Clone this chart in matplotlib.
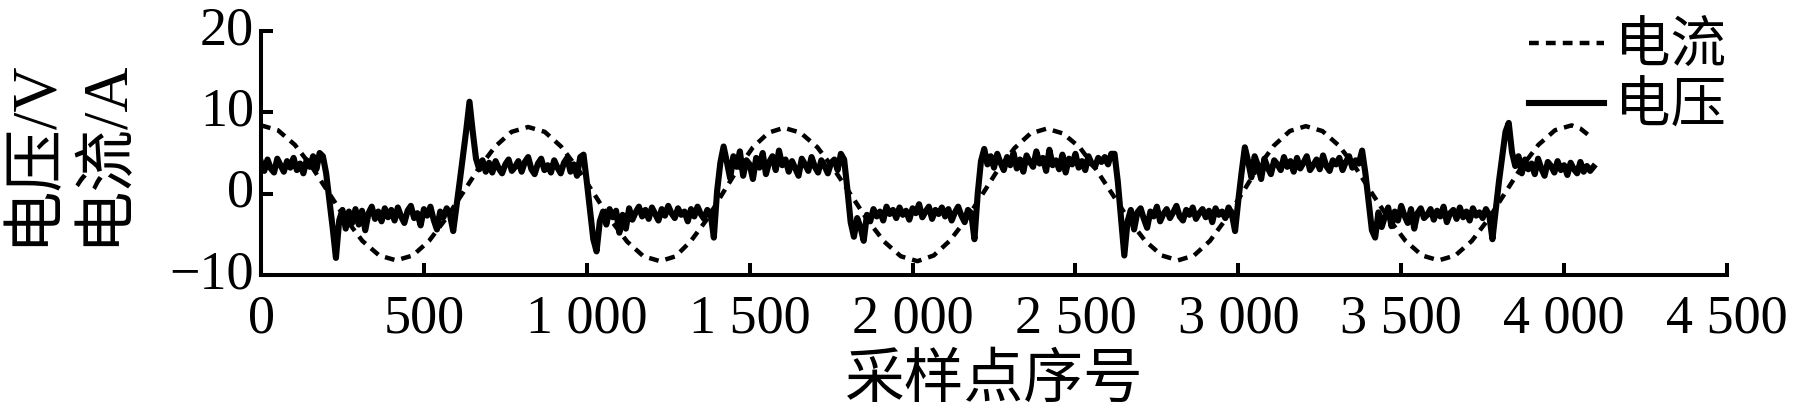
import matplotlib
matplotlib.use('Agg')
import matplotlib.pyplot as plt
import matplotlib.transforms as mtransforms
import numpy as np

plt.rcParams['font.family'] = ['Liberation Serif', 'Noto Sans CJK SC']

# ------------------------------------------------------------
# Data (sample index vs. value)
# ------------------------------------------------------------

# current (dashed), points along the curve
current_x = [0, 52, 104, 156, 208, 260, 311, 363, 415,
             466, 516, 567, 618, 668, 719, 769, 820,
             871, 921, 972, 1022, 1073, 1124, 1174, 1225,
             1273, 1320, 1368, 1415, 1463, 1510, 1558, 1605,
             1656, 1708, 1759, 1810, 1861, 1913, 1964, 2015,
             2065, 2114, 2164, 2214, 2263, 2313, 2362, 2412,
             2462, 2513, 2563, 2614, 2664, 2714, 2765, 2815,
             2864, 2913, 2962, 3011, 3060, 3109, 3158, 3207,
             3258, 3309, 3360, 3411, 3462, 3513, 3564, 3615,
             3666, 3717, 3768, 3819, 3870, 3921, 3972, 4023,
             4050, 4075]
current_y = [8.4, 7.8, 6.0, 3.3, 0.1, -3.1, -5.8, -7.6, -8.2,
             -7.6, -5.8, -3.1, 0.0, 3.1, 5.8, 7.6, 8.2,
             7.6, 5.8, 3.1, 0.0, -3.2, -5.9, -7.7, -8.3,
             -7.7, -5.8, -3.2, -0.1, 3.0, 5.7, 7.5, 8.1,
             7.5, 5.7, 3.0, -0.1, -3.2, -5.9, -7.7, -8.3,
             -7.6, -5.8, -3.2, -0.1, 3.0, 5.6, 7.4, 8.0,
             7.4, 5.7, 3.0, -0.1, -3.2, -5.8, -7.6, -8.2,
             -7.6, -5.8, -3.1, 0.0, 3.2, 5.9, 7.7, 8.3,
             7.7, 5.9, 3.2, 0.0, -3.1, -5.8, -7.6, -8.2,
             -7.6, -5.8, -3.1, 0.1, 3.3, 6.0, 7.8, 8.4,
             8.0, 7.2]

# voltage (solid), one value every 10 samples
voltage_step = 10
voltage = [
    3.9, 2.8, 4.2, 3.1, 2.6, 4.3, 3.5, 2.7, 4.0, 3.2,          # 0
    4.4, 2.9, 3.7, 2.5, 4.1, 3.3, 4.6, 3.0, 5.0, 4.6,          # 100
    2.5, -0.8, -4.2, -7.9, -3.3, -2.0, -4.3, -2.2, -3.6, -1.9,  # 200
    -3.8, -2.1, -4.5, -2.4, -1.6, -3.1, -2.2, -3.4, -1.8, -2.9,  # 300
    -2.0, -3.3, -1.7, -2.8, -3.6, -2.1, -1.5, -3.0, -2.4, -3.9,  # 400
    -1.9, -2.7, -1.6, -3.2, -4.4, -2.2, -2.9, -1.8, -2.6, -4.6,  # 500
    -1.6, 1.5, 4.6, 7.8, 11.3, 7.6, 4.3, 3.0, 4.1, 2.7,        # 600
    3.8, 2.6, 4.0, 3.1, 2.5, 3.6, 4.2, 2.8, 3.3, 4.0,          # 700
    2.7, 3.9, 4.5, 3.0, 2.4, 3.7, 4.3, 2.9, 3.5, 2.6,          # 800
    4.1, 3.2, 2.5, 3.8, 4.4, 2.7, 3.6, 2.2, 4.5, 4.8,          # 900
    1.5, -2.0, -5.6, -7.1, -3.4, -2.2, -3.8, -1.9, -2.9, -2.1,  # 1000
    -4.8, -2.6, -4.3, -1.8, -3.2, -2.3, -1.6, -2.8, -2.0, -3.1,  # 1100
    -1.7, -2.5, -3.3, -1.9, -2.7, -1.5, -2.4, -3.0, -1.8, -2.6,  # 1200
    -2.2, -3.4, -1.9, -2.8, -1.6, -2.5, -3.1, -2.0, -2.4, -5.4,  # 1300
    0.3, 3.8, 5.8, 3.9, 1.9, 4.6, 3.3, 5.2, 2.2, 4.1,          # 1400
    3.6, 1.8, 4.4, 3.2, 5.0, 2.4, 3.9, 4.6, 2.9, 5.3,          # 1500
    3.5, 4.2, 2.7, 4.0, 3.1, 2.2, 4.3, 3.6, 2.8, 4.5,          # 1600
    3.3, 2.6, 4.1, 3.4, 2.5, 3.8, 4.2, 2.9, 4.9, 4.2,          # 1700
    0.5, -3.5, -5.3, -3.0, -4.1, -5.8, -2.6, -3.4, -1.9, -2.8,  # 1800
    -2.2, -3.3, -1.6, -2.5, -2.0, -3.0, -1.7, -2.6, -2.1, -3.2,  # 1900
    -1.8, -2.4, -1.3, -2.9, -2.2, -1.6, -3.1, -2.0, -2.5, -1.7,  # 2000
    -2.8, -1.9, -3.3, -2.3, -1.6, -2.7, -3.5, -2.0, -2.4, -5.6,  # 2100
    0.0, 4.0, 5.5, 3.6, 4.6, 3.2, 4.9, 3.8, 2.9, 4.5,          # 2200
    3.5, 5.0, 3.1, 4.2, 2.7, 4.7, 3.9, 3.3, 5.2, 3.7,          # 2300
    4.4, 2.8, 5.4, 3.5, 4.1, 3.0, 4.8, 2.6, 4.3, 3.6,          # 2400
    4.9, 3.2, 4.0, 2.9, 4.6, 3.7, 3.3, 4.4, 3.9, 4.5,          # 2500
    3.6, 4.9, 4.9, 1.5, -3.0, -7.6, -3.4, -2.0, -4.4, -2.3,     # 2600
    -1.8, -3.1, -4.2, -2.2, -2.8, -1.6, -3.4, -2.5, -1.9, -3.0,  # 2700
    -2.3, -1.5, -2.8, -3.3, -2.0, -2.6, -1.7, -3.1, -2.4, -1.9,  # 2800
    -2.9, -2.1, -3.5, -1.8, -2.6, -2.2, -3.0, -1.7, -2.5, -4.6,  # 2900
    -0.8, 2.6, 5.7, 4.0, 2.0, 4.6, 3.5, 1.8, 4.3, 3.2,         # 3000
    2.4, 4.1, 3.6, 2.9, 4.5, 3.3, 4.0, 2.7, 4.4, 3.1,          # 3100
    3.8, 4.6, 2.9, 3.5, 4.2, 3.0, 4.7, 3.4, 2.8, 4.1,          # 3200
    3.6, 4.4, 2.9, 3.9, 4.6, 3.2, 4.1, 3.7, 5.3, 2.5,          # 3300
    -1.0, -4.5, -5.4, -2.3, -4.1, -2.8, -1.7, -4.0, -2.2, -3.3,  # 3400
    -1.5, -2.7, -3.6, -1.9, -4.3, -2.4, -1.8, -3.0, -2.6, -1.9,  # 3500
    -3.2, -2.1, -2.8, -1.6, -3.5, -2.4, -2.0, -3.1, -1.7, -2.9,  # 3600
    -2.2, -3.3, -1.8, -2.7, -2.3, -3.0, -1.9, -2.6, -5.6, -2.0,  # 3700
    1.5, 4.6, 7.6, 8.7, 5.1, 3.4, 4.6, 2.5, 4.2, 3.0,          # 3800
    3.7, 2.4, 4.3, 3.1, 2.2, 3.9, 3.4, 2.6, 4.0, 2.9,          # 3900
    3.5, 2.3, 3.8, 3.0, 2.5, 3.9, 2.7, 3.4, 2.8, 3.3,          # 4000
]
voltage_x = np.arange(len(voltage)) * voltage_step

xticks = [0, 500, 1000, 1500, 2000, 2500, 3000, 3500, 4000, 4500]
xtick_labels = ['0', '500', '1 000', '1 500', '2 000', '2 500',
                '3 000', '3 500', '4 000', '4 500']
yticks = [-10, 0, 10, 20]
ytick_labels = ['\u221210', '0', '10', '20']

# ------------------------------------------------------------
# Plotting
# ------------------------------------------------------------
fig = plt.figure(figsize=(17.94, 4.18), dpi=100)
ax = fig.add_axes([261 / 1794, 1 - 275 / 418, 1466 / 1794, 244 / 418])

ax.plot(current_x, current_y, color='black', linewidth=3.2,
        linestyle=(0, (2.2, 1.6)), label='电流')
ax.plot(voltage_x, voltage, color='black', linewidth=4.4,
        solid_joinstyle='round', label='电压')

ax.set_xlim(0, 4500)
ax.set_ylim(-10, 20)
ax.set_xticks(xticks)
ax.set_xticklabels(xtick_labels)
ax.set_yticks(yticks)
ax.set_yticklabels(ytick_labels)

for side in ['top', 'right']:
    ax.spines[side].set_visible(False)
for side in ['left', 'bottom']:
    ax.spines[side].set_linewidth(2.9)
    ax.spines[side].set_capstyle('projecting')

ax.tick_params(direction='in', length=8.5, width=2.9, labelsize=39,
               colors='black')
ax.tick_params(axis='x', pad=14)
ax.tick_params(axis='y', pad=5)

# y tick labels sit a little above their ticks in the reference
lift = mtransforms.ScaledTranslation(0, 0.06, fig.dpi_scale_trans)
for lab in ax.get_yticklabels():
    lab.set_transform(lab.get_transform() + lift)

fig.text(70 / 1794, 1 - 152 / 418, '电压/V\n电流/A', rotation=90,
         ha='center', va='center', fontsize=45, linespacing=1.3)
fig.text(994 / 1794, 1 - 382 / 418, '采样点序号', ha='center', va='center',
         fontsize=43)

leg = ax.legend(loc='upper right', bbox_to_anchor=(1726 / 1794, 1 - 22 / 418),
                bbox_transform=fig.transFigure, frameon=False, fontsize=40,
                handlelength=1.35, handletextpad=0.2, labelspacing=0.16,
                borderpad=0, borderaxespad=0)

fig.savefig('out.png', dpi=100)
